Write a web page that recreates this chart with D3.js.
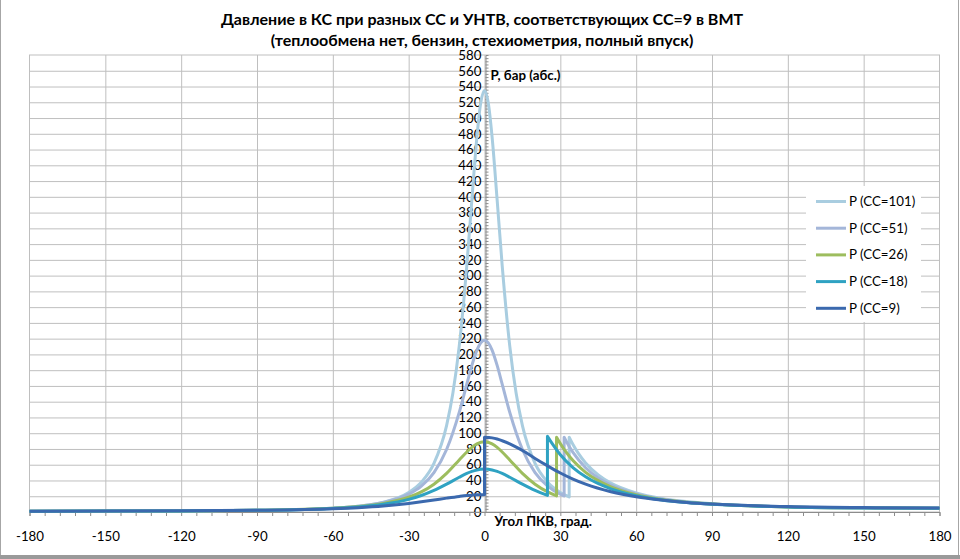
<!DOCTYPE html>
<html><head><meta charset="utf-8">
<script src="https://cdn.jsdelivr.net/npm/d3@7"></script>
<style>
html,body{margin:0;padding:0;background:#fff;}
svg{display:block;font-family:Lato,"Open Sans",sans-serif;}
</style></head>
<body><svg id="chart" width="960" height="559"></svg>
<script>
// ---------- DATA ----------
const titleLines = ["Давление в КС при разных СС и УНТВ, соответствующих СС=9 в ВМТ",
                    "(теплообмена нет, бензин, стехиометрия, полный впуск)"];
const yTitle = "P, бар (абс.)";
const xTitle = "Угол ПКВ, град.";
const seriesNames = ["P (CC=101)", "P (CC=51)", "P (CC=26)", "P (CC=18)", "P (CC=9)"];
const seriesColors = ["#A9CDE0", "#A4B6D9", "#9DBD5E", "#2FA2C2", "#3B69AE"];
const xTicks = [-180,-150,-120,-90,-60,-30,0,30,60,90,120,150,180];
const yTicks = d3.range(0, 581, 20);

// angle (deg) / pressure (bar) per series; a repeated angle marks a vertical jump
const ang101 = [-180,-150,-120,-90,-60,-50,-40,-30,-25,-20,-15,-12.5,-10,-7,-5,-3,-1.5,0,1.5,3,5,7,10,12.5,15,20,25,30,33.5,33.5,35,37,40,45,50,60,70,80,90,120,150,180];
const p101   = [1.0,1.08,1.34,2.11,4.88,7.41,12.5,24.8,37.8,61.7,109.7,150.9,210.5,312.8,396,476,519,535,519,476,396,312.8,210.5,150.9,109.7,61.7,37.8,24.8,19.1,95,85.6,75.0,62.3,47.2,36.8,24.3,17.3,13.2,10.5,6.68,5.35,5.0];

const ang51 = [-180,-150,-120,-90,-60,-50,-40,-30,-25,-20,-15,-10,-7,-5,-3,-1.5,0,1.5,3,5,7,10,15,20,25,30,31.5,31.5,33,35,40,45,50,60,70,80,90,120,150,180];
const p51   = [1.04,1.11,1.38,2.16,4.89,7.32,12.07,22.6,32.9,50.1,79.3,126.4,162.3,186,205.5,214.7,218,214.7,205.5,186,162.3,126.4,79.3,50.1,32.9,22.6,20.4,95,85.9,75.6,56.2,43.1,34.1,22.8,16.4,12.5,10.1,6.44,5.16,4.83];

const ang26 = [-180,-150,-120,-90,-60,-50,-40,-30,-25,-20,-15,-10,-7,-5,-3,0,3,5,7,10,15,20,25,28.5,28.5,30,32,35,40,50,60,70,80,90,120,150,180];
const p26   = [1.06,1.13,1.40,2.17,4.73,6.88,10.85,18.7,25.5,35.3,49.0,66.0,76.2,82.0,86.4,89,86.4,82.0,76.2,66.0,49.0,35.3,25.5,20.5,95,86.8,77.2,65.3,50.2,31.9,21.9,16.0,12.4,10.0,6.5,5.24,4.9];

const ang18 = [-180,-150,-120,-90,-60,-50,-40,-30,-25,-20,-15,-10,-7,-5,-3,0,3,5,7,10,15,20,24.9,24.9,27,30,35,40,50,60,70,80,90,120,150,180];
const p18   = [1.07,1.14,1.41,2.15,4.55,6.48,9.86,16.0,20.9,27.3,35.3,44.1,48.9,51.5,53.4,54.5,53.4,51.5,48.9,44.1,35.3,27.3,21.0,96,85.8,72.6,56.4,44.6,29.3,20.6,15.3,11.95,9.72,6.37,5.16,4.84];

const ang9 = [-180,-150,-120,-90,-60,-50,-40,-30,-25,-20,-15,-10,-7,-5,-3,0,0,3,5,7,10,15,20,25,30,35,40,50,60,70,80,90,120,150,180];
const p9   = [1.11,1.18,1.43,2.11,4.1,5.5,7.6,10.8,12.9,15.2,17.6,19.8,20.9,21.4,21.8,22,95,94.1,92.6,90.4,86.5,78,68,58.5,49.5,41.8,35.4,25.8,19.4,15.2,12.2,10.1,6.9,5.6,5.2];

const seriesAngles = [ang101, ang51, ang26, ang18, ang9];
const seriesValues = [p101, p51, p26, p18, p9];

// ---------- LAYOUT ----------
const svg = d3.select("#chart");
const L = 29.5, R = 939.5, T = 55, B = 512;
const x = d3.scaleLinear().domain([-180, 180]).range([L, R]);
const y = d3.scaleLinear().domain([0, 580]).range([B, T]);

// outer chart border
svg.append("line").attr("x1",0.5).attr("x2",0.5).attr("y1",0).attr("y2",557).attr("stroke","#A6A6A6");
svg.append("line").attr("x1",958.5).attr("x2",958.5).attr("y1",0).attr("y2",557).attr("stroke","#A6A6A6");
svg.append("rect").attr("x",0).attr("y",555).attr("width",960).attr("height",4).attr("fill","#9A9A9A");

// title
svg.append("g").selectAll("text").data(titleLines).join("text")
  .attr("x", 482).attr("y", (d,i) => 24.5 + i*21)
  .attr("text-anchor","middle").attr("font-weight","bold").attr("font-size","16px").attr("fill","#000")
  .text(d => d);

// grid
const grid = svg.append("g");
grid.append("g").attr("transform",`translate(0,${B})`)
  .call(d3.axisBottom(x).tickValues(xTicks.slice(1,-1)).tickSize(-(B-T)).tickFormat(""))
  .call(g => g.select(".domain").remove())
  .call(g => g.selectAll("line").attr("stroke","#BFBFBF"));
grid.append("g").attr("transform",`translate(${L},0)`)
  .call(d3.axisLeft(y).tickValues(yTicks.slice(1,-1)).tickSize(-(R-L)).tickFormat(""))
  .call(g => g.select(".domain").remove())
  .call(g => g.selectAll("line").attr("stroke","#BFBFBF"));
svg.append("rect").attr("x",L).attr("y",T).attr("width",R-L).attr("height",B-T)
  .attr("fill","none").attr("stroke","#BFBFBF");

// y axis at x=0
const x0 = Math.round(x(0)) + 0.5;
svg.append("g").attr("transform",`translate(${x0},0)`)
  .call(d3.axisRight(y).tickValues(d3.range(0,580,4)).tickSize(3).tickFormat(""))
  .call(g => g.selectAll("line,path").attr("stroke","#8C8C8C"));
svg.append("g").attr("transform",`translate(${x0 - 4},0)`)
  .call(d3.axisLeft(y).tickValues(yTicks).tickSize(0).tickPadding(0).tickFormat(d => String(d)))
  .call(g => g.select(".domain").remove())
  .call(g => g.selectAll("text").attr("font-size","13.3px").attr("fill","#000").attr("font-family","Lato,sans-serif"));

// x axis at y=0
svg.append("g").attr("transform",`translate(0,${B})`)
  .call(d3.axisBottom(x).tickValues(d3.range(-180,181,6)).tickSize(4).tickFormat(""))
  .call(g => g.selectAll("line,path").attr("stroke","#8C8C8C"));
svg.append("g").attr("transform",`translate(0,${B + 20})`)
  .call(d3.axisBottom(x).tickValues(xTicks).tickSize(0).tickPadding(0).tickFormat(d => String(d)))
  .call(g => g.select(".domain").remove())
  .call(g => g.selectAll("text").attr("font-size","13.3px").attr("fill","#000").attr("font-family","Lato,sans-serif"));

// axis titles
svg.append("text").attr("x", x0 + 5).attr("y", 80).attr("font-weight","bold").attr("font-size","13.3px").text(yTitle);
svg.append("text").attr("x", x0 + 9).attr("y", 526).attr("font-weight","bold").attr("font-size","13.3px").text(xTitle);

// series
function buildPath(xs, ys) {
  const line = d3.line().x(d => x(d[0])).y(d => y(d[1])).curve(d3.curveMonotoneX);
  const segs = [];
  let cur = [];
  xs.forEach((a, i) => {
    if (i > 0 && a === xs[i-1]) { segs.push(cur); cur = []; }
    cur.push([a, ys[i]]);
  });
  segs.push(cur);
  return segs.map((s, i) => { const p = line(s); return i === 0 ? p : "L" + p.slice(1); }).join("");
}
const lines = svg.append("g");
seriesNames.forEach((n, i) => {
  lines.append("path").attr("d", buildPath(seriesAngles[i], seriesValues[i]))
    .attr("fill","none").attr("stroke", seriesColors[i]).attr("stroke-width", 3)
    .attr("stroke-linejoin","round");
});

// legend
const lg = svg.append("g");
lg.append("rect").attr("x",806).attr("y",186).attr("width",115).attr("height",136).attr("fill","#fff");
seriesNames.forEach((n, i) => {
  const cy = 201.5 + i * 26.7;
  lg.append("line").attr("x1",816).attr("x2",846).attr("y1",cy).attr("y2",cy)
    .attr("stroke", seriesColors[i]).attr("stroke-width",3);
  lg.append("text").attr("x",849).attr("y",cy + 4.5).attr("font-size","13.3px").attr("fill","#000").text(n);
});
</script>
</body></html>
